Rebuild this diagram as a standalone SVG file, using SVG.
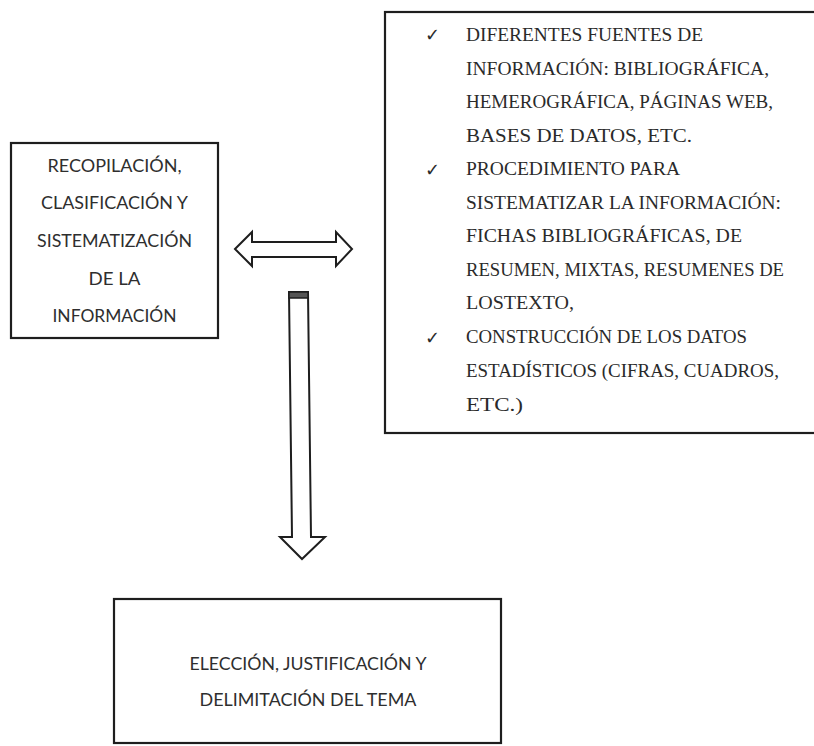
<svg xmlns="http://www.w3.org/2000/svg" width="814" height="746" viewBox="0 0 814 746">
<style>
.box{fill:#fff;stroke:#1e1e1e;stroke-width:2.2}
.arr{fill:#fff;stroke:#1e1e1e;stroke-width:2;stroke-linejoin:miter}
.sans{font-family:Lato,"Open Sans","Liberation Sans",sans-serif;font-size:17px;fill:#2e2e2e;text-anchor:middle}
.serif{font-family:"Liberation Serif","DejaVu Serif",serif;font-size:19.5px;fill:#2a2a2a}
.chk{font-family:"DejaVu Sans",sans-serif;font-size:18px;fill:#2a2a2a}
</style>
<rect width="814" height="746" fill="#fff"/>
<g id="node-recopilacion">
<rect class="box" x="11" y="143" width="207" height="195"/>
<text class="sans" x="114.5" y="172" textLength="134" lengthAdjust="spacingAndGlyphs">RECOPILACIÓN,</text>
<text class="sans" x="114.5" y="209" textLength="147" lengthAdjust="spacingAndGlyphs">CLASIFICACIÓN Y</text>
<text class="sans" x="114.5" y="247" textLength="155" lengthAdjust="spacingAndGlyphs">SISTEMATIZACIÓN</text>
<text class="sans" x="114.5" y="285" textLength="52" lengthAdjust="spacingAndGlyphs">DE LA</text>
<text class="sans" x="114.5" y="322" textLength="124" lengthAdjust="spacingAndGlyphs">INFORMACIÓN</text>
</g>
<g id="node-fuentes">
<rect class="box" x="385" y="12" width="440" height="421"/>
<text class="chk" x="425" y="41">✓</text>
<text class="chk" x="425" y="176">✓</text>
<text class="chk" x="425" y="344">✓</text>
<text class="serif" x="466" y="41" textLength="237" lengthAdjust="spacingAndGlyphs">DIFERENTES FUENTES DE</text>
<text class="serif" x="466" y="75" textLength="303" lengthAdjust="spacingAndGlyphs">INFORMACIÓN: BIBLIOGRÁFICA,</text>
<text class="serif" x="466" y="108" textLength="307" lengthAdjust="spacingAndGlyphs">HEMEROGRÁFICA, PÁGINAS WEB,</text>
<text class="serif" x="466" y="142" textLength="226" lengthAdjust="spacingAndGlyphs">BASES DE DATOS, ETC.</text>
<text class="serif" x="466" y="175" textLength="214" lengthAdjust="spacingAndGlyphs">PROCEDIMIENTO PARA</text>
<text class="serif" x="466" y="209" textLength="315" lengthAdjust="spacingAndGlyphs">SISTEMATIZAR LA INFORMACIÓN:</text>
<text class="serif" x="466" y="242" textLength="276" lengthAdjust="spacingAndGlyphs">FICHAS BIBLIOGRÁFICAS, DE</text>
<text class="serif" x="466" y="276" textLength="318" lengthAdjust="spacingAndGlyphs">RESUMEN, MIXTAS, RESUMENES DE</text>
<text class="serif" x="466" y="309" textLength="108" lengthAdjust="spacingAndGlyphs">LOSTEXTO,</text>
<text class="serif" x="466" y="343" textLength="281" lengthAdjust="spacingAndGlyphs">CONSTRUCCIÓN DE LOS DATOS</text>
<text class="serif" x="466" y="377" textLength="313" lengthAdjust="spacingAndGlyphs">ESTADÍSTICOS (CIFRAS, CUADROS,</text>
<text class="serif" x="466" y="411" textLength="57" lengthAdjust="spacingAndGlyphs">ETC.)</text>
</g>
<g id="node-eleccion">
<rect class="box" x="114" y="599" width="387" height="144"/>
<text class="sans" x="308" y="670" textLength="237" lengthAdjust="spacingAndGlyphs">ELECCIÓN, JUSTIFICACIÓN Y</text>
<text class="sans" x="308" y="706" textLength="217" lengthAdjust="spacingAndGlyphs">DELIMITACIÓN DEL TEMA</text>
</g>
<g id="connectors">
<polygon class="arr" points="235,249 252,232 252,242 336,242 336,232 352,249 336,266 336,257 252,257 252,266"/>
<polygon class="arr" points="289,292 308,292 311,537 325,537 302,559 280,537 292,537"/>
<rect x="289" y="292" width="19" height="6" fill="#555" stroke="#1e1e1e" stroke-width="1.5"/>
</g>
</svg>
